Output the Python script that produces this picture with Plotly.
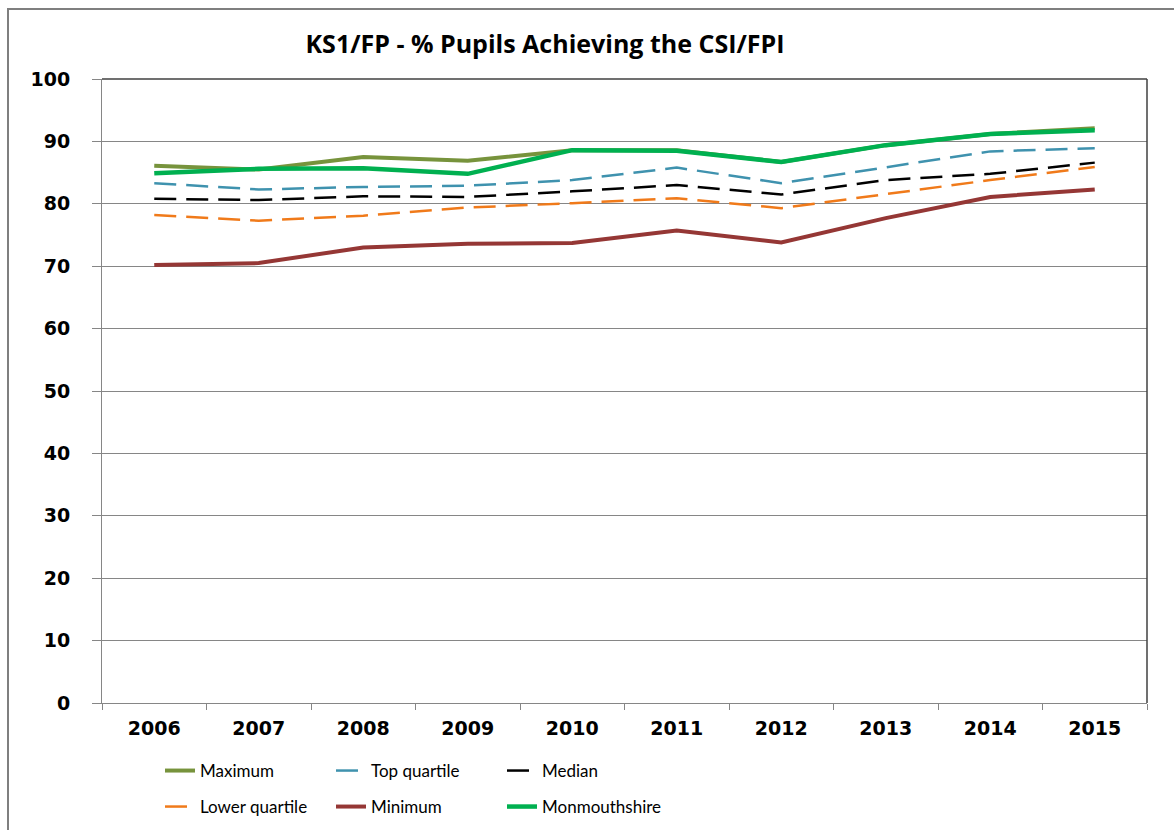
import plotly.graph_objects as go

years = ["2006", "2007", "2008", "2009", "2010", "2011", "2012", "2013", "2014", "2015"]
maximum = [86.1, 85.5, 87.5, 86.9, 88.6, 88.6, 86.7, 89.4, 91.2, 92.1]
top_quartile = [83.3, 82.3, 82.7, 82.9, 83.8, 85.8, 83.3, 85.9, 88.4, 88.9]
median = [80.8, 80.6, 81.2, 81.1, 82.0, 83.0, 81.5, 83.8, 84.8, 86.6]
lower_quartile = [78.2, 77.3, 78.1, 79.4, 80.1, 80.9, 79.3, 81.6, 83.8, 85.9]
minimum = [70.2, 70.5, 73.0, 73.6, 73.7, 75.7, 73.8, 77.7, 81.1, 82.3]
monmouthshire = [84.9, 85.6, 85.7, 84.8, 88.6, 88.5, 86.7, 89.4, 91.2, 91.8]

series = [
    ("Maximum", maximum, "#77933C", 4, "solid", "legend"),
    ("Top quartile", top_quartile, "#3F92AE", 2.5, "22px,10px", "legend"),
    ("Median", median, "#000000", 2.5, "22px,10px", "legend"),
    ("Lower quartile", lower_quartile, "#F07A1A", 2.5, "22px,10px", "legend2"),
    ("Minimum", minimum, "#953735", 4, "solid", "legend2"),
    ("Monmouthshire", monmouthshire, "#00B050", 4.5, "solid", "legend2"),
]

fig = go.Figure()
for name, vals, color, width, dash, leg in series:
    fig.add_trace(go.Scatter(
        x=years, y=vals, name=name, mode="lines",
        line=dict(color=color, width=width, dash=dash),
        legend=leg,
    ))

W, H = 1174, 830
L, R, T, B = 102, 27, 79, 127
pw, ph = W - L - R, H - T - B

def px(x):
    return (x - L) / pw

def py(y):
    return (H - B - y) / ph

legend_font = dict(family="Lato, 'Open Sans', sans-serif", size=17, color="#000000")
common_leg = dict(orientation="h", xref="container", yref="container", xanchor="left", yanchor="middle",
                  entrywidth=126, entrywidthmode="pixels", font=legend_font,
                  bgcolor="rgba(0,0,0,0)", tracegroupgap=0, traceorder="normal")

fig.update_layout(
    width=W, height=H,
    margin=dict(l=L, r=R, t=T, b=B, pad=0, autoexpand=False),
    paper_bgcolor="#FFFFFF", plot_bgcolor="#FFFFFF",
    title=dict(text="<b>KS1/FP - % Pupils Achieving the CSI/FPI</b>",
               x=545 / W, xanchor="center", y=1 - 44 / H, yanchor="middle",
               font=dict(family="'Open Sans', Lato, sans-serif", size=25, color="#000000")),
    legend=dict(x=160 / W, y=1 - 771 / H, **common_leg),
    legend2=dict(x=160 / W, y=1 - 807 / H, **common_leg),
    xaxis=dict(type="category", range=[-0.5, 9.5], showgrid=False,
               showline=True, linecolor="#868686", linewidth=1,
               ticks="outside", tickson="boundaries", ticklen=6, tickcolor="#868686",
               ticklabelstandoff=8,
               tickfont=dict(family="DejaVu Sans", size=19, color="#000000", weight="bold"),
               fixedrange=True),
    yaxis=dict(range=[0, 100], dtick=10, showgrid=True, gridcolor="#868686", gridwidth=1,
               showline=True, linecolor="#868686", linewidth=1, zeroline=False,
               ticks="outside", ticklen=9, tickcolor="#868686",
               ticklabelstandoff=18,
               tickfont=dict(family="DejaVu Sans", size=19, color="#000000", weight="bold"),
               fixedrange=True),
    showlegend=True,
)

# plot-area border (top and right) and outer chart border
fig.add_shape(type="line", xref="paper", yref="paper", x0=0, x1=1, y0=1, y1=1,
              line=dict(color="#404040", width=1.5))
fig.add_shape(type="line", xref="paper", yref="paper", x0=1, x1=1, y0=0, y1=1,
              line=dict(color="#404040", width=1.5))
fig.add_shape(type="rect", xref="paper", yref="paper",
              x0=px(8), x1=px(1185), y0=py(845), y1=py(9),
              line=dict(color="#7F7F7F", width=2), fillcolor="rgba(0,0,0,0)")

fig.write_html(
    "out.html",
    config={"displayModeBar": False},
    post_script="document.body.style.margin='0';document.body.style.overflow='hidden';",
)
